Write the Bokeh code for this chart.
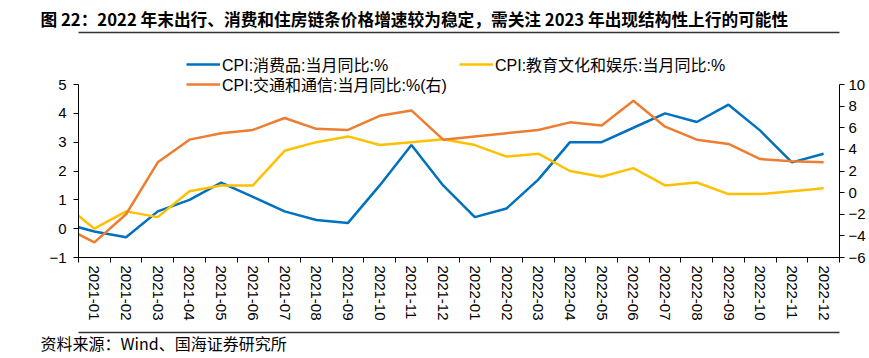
from bokeh.plotting import figure
from bokeh.models import (Range1d, LinearAxis, FixedTicker, Legend, LegendItem,
                          ColumnDataSource, Title)
from bokeh.embed import file_html
from bokeh.resources import INLINE

# ---------------- data ----------------
months = ["2020-12",
          "2021-01", "2021-02", "2021-03", "2021-04", "2021-05", "2021-06",
          "2021-07", "2021-08", "2021-09", "2021-10", "2021-11", "2021-12",
          "2022-01", "2022-02", "2022-03", "2022-04", "2022-05", "2022-06",
          "2022-07", "2022-08", "2022-09", "2022-10", "2022-11", "2022-12"]
goods = [0.2,
         -0.1, -0.3, 0.6, 1.0, 1.6, 1.1, 0.6, 0.3, 0.2, 1.5, 2.9, 1.5,
         0.4, 0.7, 1.7, 3.0, 3.0, 3.5, 4.0, 3.7, 4.3, 3.4, 2.3, 2.6]
edu = [0.9,
       0.0, 0.6, 0.4, 1.3, 1.5, 1.5, 2.7, 3.0, 3.2, 2.9, 3.0, 3.1,
       2.9, 2.5, 2.6, 2.0, 1.8, 2.1, 1.5, 1.6, 1.2, 1.2, 1.3, 1.4]
transport = [-3.1,
             -4.6, -2.0, 2.8, 4.9, 5.5, 5.8, 6.9, 5.9, 5.8, 7.1, 7.6, 4.9,
             5.2, 5.5, 5.8, 6.5, 6.2, 8.5, 6.1, 4.9, 4.5, 3.1, 2.9, 2.8]

left_ticks = [-1, 0, 1, 2, 3, 4, 5]
right_ticks = [-6, -4, -2, 0, 2, 4, 6, 8, 10]

series_names = ["CPI:消费品:当月同比:%",
                "CPI:教育文化和娱乐:当月同比:%",
                "CPI:交通和通信:当月同比:%(右)"]
TITLE = "图 22：2022 年末出行、消费和住房链条价格增速较为稳定，需关注 2023 年出现结构性上行的可能性"
SOURCE = "资料来源：Wind、国海证券研究所"

BLUE = "#0070C0"
YELLOW = "#FFC000"
ORANGE = "#ED7D31"
RULE = "#333333"
CJK = "Noto Sans CJK SC"
LAT = "Liberation Sans"
MIXED = "Liberation Sans, Noto Sans CJK SC"

# ---------------- layout (pixels) ----------------
W, H = 869, 358
BL, BR = 78, 30          # frame left / right borders
FT = 32                  # frame top = title underline row
Y_TOP_TICK = 84          # pixel row of the top tick value
Y_BOTTOM = 257           # pixel row of the bottom axis
BB = H - Y_BOTTOM
LEG_ROW_H = 26           # measured height of one legend row

def extend_top(ticks):
    per_px = (ticks[-1] - ticks[0]) / (Y_BOTTOM - Y_TOP_TICK)
    return ticks[-1] + (Y_TOP_TICK - FT) * per_px

x = list(range(len(months)))
src = ColumnDataSource(dict(x=x, goods=goods, edu=edu, transport=transport))

p = figure(width=W, height=H, x_range=Range1d(0.5, len(months) - 0.5),
           y_range=Range1d(left_ticks[0], extend_top(left_ticks)),
           output_backend="svg", toolbar_location=None,
           min_border_left=BL, min_border_right=BR, min_border_top=FT, min_border_bottom=BB)
p.outline_line_color = None
p.xgrid.visible = False
p.ygrid.visible = False
p.extra_y_ranges = {"right": Range1d(right_ticks[0], extend_top(right_ticks))}

# x axis: labels at month centres, tick marks between months
xa = p.xaxis[0]
xa.ticker = FixedTicker(ticks=x[1:], minor_ticks=[i - 0.5 for i in x[1:]] + [x[-1] + 0.5])
xa.major_label_overrides = {i: months[i] for i in x[1:]}
xa.major_label_orientation = "vertical"
xa.major_tick_line_color = None
xa.major_tick_out = 5
xa.major_tick_in = 0
xa.minor_tick_line_color = "black"
xa.minor_tick_out = 5
xa.minor_tick_in = 0
xa.major_label_standoff = 3
xa.major_label_text_font = LAT
xa.major_label_text_font_size = "15px"
xa.major_label_text_color = "black"
xa.axis_line_color = "black"

ya = p.yaxis[0]
ya.ticker = FixedTicker(ticks=left_ticks)
ya.bounds = (left_ticks[0], left_ticks[-1])
ya.major_tick_out = 5
ya.major_tick_in = 0
ya.minor_tick_line_color = None
ya.major_label_standoff = 7
ya.major_label_text_font = LAT
ya.major_label_text_font_size = "15px"
ya.major_label_text_color = "black"
ya.axis_line_color = "black"
ya.major_tick_line_color = "black"

yr = LinearAxis(y_range_name="right", ticker=FixedTicker(ticks=right_ticks),
                bounds=(right_ticks[0], right_ticks[-1]))
yr.major_tick_out = 5
yr.major_tick_in = 0
yr.minor_tick_line_color = None
yr.major_label_standoff = 4
yr.major_label_text_font = LAT
yr.major_label_text_font_size = "15px"
yr.major_label_text_color = "black"
yr.axis_line_color = "black"
yr.major_tick_line_color = "black"
p.add_layout(yr, "right")

r1 = p.line("x", "goods", source=src, line_color=BLUE, line_width=2.5)
r2 = p.line("x", "edu", source=src, line_color=YELLOW, line_width=2.5)
r3 = p.line("x", "transport", source=src, line_color=ORANGE, line_width=2.5,
            y_range_name="right")

def make_legend(items, row_center_y):
    return Legend(items=items,
                  location=(186 - BL, Y_BOTTOM - (row_center_y + LEG_ROW_H / 2)),
                  orientation="horizontal",
                  glyph_width=34, glyph_height=20, label_height=20, label_width=237,
                  label_standoff=2, spacing=0, padding=0, margin=0,
                  label_text_font=MIXED, label_text_font_size="16px",
                  label_text_color="black",
                  border_line_color=None, background_fill_alpha=0)

p.add_layout(make_legend([LegendItem(label=series_names[0], renderers=[r1]),
                          LegendItem(label=series_names[1], renderers=[r2])], 63), "center")
p.add_layout(make_legend([LegendItem(label=series_names[2], renderers=[r3])], 83), "center")

# ---------------- rules + title + source in the side panels ----------------
def blank_axis(size, line_color, line_width=1.5):
    a = LinearAxis(ticker=FixedTicker(ticks=[x[1]]), major_tick_out=size, major_tick_in=0,
                   axis_line_color=line_color, axis_line_width=line_width,
                   major_tick_line_color=None, minor_tick_line_color=None,
                   major_label_standoff=0, major_label_text_font_size="0px",
                   major_label_overrides={x[1]: ""})
    return a

# above: frame top is the title underline, then the title
p.add_layout(blank_axis(1, RULE), "above")
p.title = Title(text=TITLE, align="left", offset=40 - BL, vertical_align="bottom",
                standoff=1, text_font=CJK, text_font_size="16.7px",
                text_font_style="bold", text_color="black")

# below: x axis -> spacer -> rule -> source
p.add_layout(blank_axis(9, None), "below")
p.add_layout(blank_axis(1, RULE), "below")
p.add_layout(Title(text=SOURCE, align="left", offset=40 - BL, vertical_align="middle",
                   standoff=-8, text_font=CJK, text_font_size="16px",
                   text_font_style="normal", text_color="black"), "below")

open("out.html", "w").write(file_html(p, INLINE))
